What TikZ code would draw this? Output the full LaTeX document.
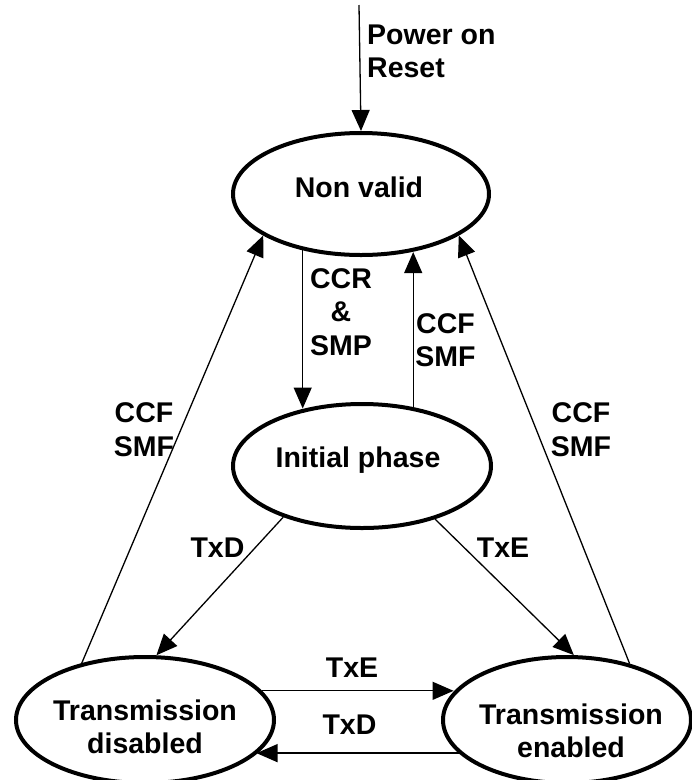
\documentclass[tikz,border=0pt]{standalone}
\usepackage{fontspec}
\setmainfont{Liberation Sans}
\usetikzlibrary{arrows.meta,shapes.geometric}
\begin{document}
\begin{tikzpicture}[x=1pt,y=-1pt,
  state/.style={ellipse,draw,line width=4pt,inner sep=0pt},
  txt/.style={font=\fontsize{28.5}{33.5}\selectfont\bfseries,align=center,inner sep=0pt},
  arr/.style={line width=1.3pt,-{Triangle[length=21pt,width=18pt]}}]
\useasboundingbox (0,0) rectangle (692,780);
% states
\node[state,minimum width=256pt,minimum height=122pt] (nv) at (361,194) {};
\node[state,minimum width=258pt,minimum height=124pt] (ip) at (362,466) {};
\node[state,minimum width=258pt,minimum height=126pt] (td) at (145,720) {};
\node[state,minimum width=248pt,minimum height=126pt] (te) at (567,720) {};
% state texts
\node[txt,anchor=base] (nvt) at (359,197) {Non valid};
\node[txt,anchor=base] (ipt) at (358,467) {Initial phase};
\node[txt] (tdt) at (145,727) {Transmission\\disabled};
\node[txt] (tet) at (571,731) {Transmission\\enabled};
% power on reset
\coordinate (por) at (359,5);
\draw[arr] (por) -- (nv.north);
\node[txt,align=left,anchor=west] (porl) at (367,51.5) {Power on\\Reset};
% Non valid <-> Initial phase
\draw[arr] (nv.224) -- (nv.224 |- ip.135);
\node[txt] (ccr) at (341,312) {CCR\\\&\\SMP};
\draw[arr] (ip.49) -- (ip.49 |- nv.311);
\node[txt] (ccfm) at (445.5,340) {CCF\\SMF};
% back to Non valid
\draw[arr] (td.138) -- (nv.203);
\node[txt] (ccfl) at (144,429.5) {CCF\\SMF};
\draw[arr] (te.42) -- (nv.337);
\node[txt] (ccfr) at (581,429.5) {CCF\\SMF};
% Initial phase -> transmission states
\draw[arr] (ip.213) -- (td.80);
\node[txt] (txdl) at (217.5,548) {TxD};
\draw[arr] (ip.324) -- (te.84);
\node[txt] (txel) at (503,548) {TxE};
% between transmission states
\draw[arr] (td.14) -- (td.14 -| te.166);
\node[txt] (txeh) at (352,667.5) {TxE};
\draw[arr] (te.197) -- (te.197 -| td.343);
\node[txt] (txdh) at (349.5,725) {TxD};
\end{tikzpicture}
\end{document}
